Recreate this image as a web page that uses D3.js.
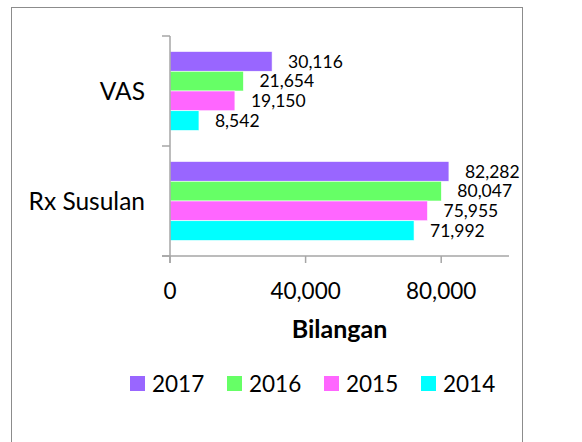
<!DOCTYPE html>
<html>
<head>
<meta charset="utf-8">
<script src="https://d3js.org/d3.v7.min.js"></script>
<style>
  body { margin: 0; background: #fff; }
  text { font-family: Lato, "Open Sans", sans-serif; fill: #000; }
</style>
</head>
<body>
<div id="chart1"></div>
<script>
var categories = ["VAS", "Rx Susulan"];
var years = ["2017", "2016", "2015", "2014"];
var values = {
  "2017": [30116, 82282],
  "2016": [21654, 80047],
  "2015": [19150, 75955],
  "2014": [8542, 71992]
};
var colors = ["#9966ff", "#66ff66", "#ff66ff", "#00ffff"];
var xTicks = [0, 40000, 80000];

var width = 582, height = 442;

var svg = d3.select("#chart1").append("svg")
  .attr("width", width)
  .attr("height", height);

// outer frame (bottom edge runs off the picture)
svg.append("rect")
  .attr("x", 11.5)
  .attr("y", 7.5)
  .attr("width", 511)
  .attr("height", 460)
  .attr("fill", "none")
  .attr("stroke", "#8c8c8c")
  .attr("stroke-width", 1);

var x = d3.scaleLinear()
  .domain([0, 100000])
  .range([170, 509]);

var y = d3.scaleBand()
  .domain(categories)
  .range([36, 256]);

var ySub = d3.scaleBand()
  .domain(years)
  .range([0, y.bandwidth()])
  .paddingInner(0)
  .paddingOuter(0.785);

var fmt = d3.format(",");

var group = svg.selectAll(".cat")
  .data(categories)
  .enter().append("g")
  .attr("class", "cat")
  .attr("transform", function(d) { return "translate(0," + y(d) + ")"; });

group.selectAll("rect")
  .data(function(d, i) { return years.map(function(yr, j) { return {year: yr, value: values[yr][i], color: colors[j]}; }); })
  .enter().append("rect")
  .attr("x", x(0))
  .attr("y", function(d) { return ySub(d.year); })
  .attr("width", function(d) { return x(d.value) - x(0); })
  .attr("height", ySub.bandwidth())
  .attr("fill", function(d) { return d.color; })
  .attr("stroke", "#fff")
  .attr("stroke-width", 0.6);

group.selectAll(".val")
  .data(function(d, i) { return years.map(function(yr) { return {year: yr, value: values[yr][i]}; }); })
  .enter().append("text")
  .attr("class", "val")
  .attr("x", function(d) { return x(d.value) + 16; })
  .attr("y", function(d) { return ySub(d.year) + ySub.bandwidth() / 2; })
  .attr("dy", ".36em")
  .style("font-size", "17.5px")
  .text(function(d) { return fmt(d.value); });

// category labels
svg.selectAll(".catlabel")
  .data(categories)
  .enter().append("text")
  .attr("class", "catlabel")
  .attr("x", 145)
  .attr("y", function(d) { return y(d) + y.bandwidth() / 2; })
  .attr("dy", ".36em")
  .attr("text-anchor", "end")
  .style("font-size", "24.5px")
  .text(function(d) { return d; });

// axes
var axisColor = "#a6a6a6";
svg.append("line")
  .attr("x1", x(0)).attr("x2", x(0))
  .attr("y1", 36).attr("y2", 263)
  .attr("stroke", axisColor).attr("stroke-width", 1.5);

svg.append("line")
  .attr("x1", 162).attr("x2", x(100000))
  .attr("y1", 256).attr("y2", 256)
  .attr("stroke", axisColor).attr("stroke-width", 1.5);

svg.selectAll(".ytick")
  .data([36, 146, 256])
  .enter().append("line")
  .attr("x1", 162).attr("x2", x(0))
  .attr("y1", function(d) { return d; })
  .attr("y2", function(d) { return d; })
  .attr("stroke", axisColor).attr("stroke-width", 1.5);

svg.selectAll(".xtick")
  .data(xTicks)
  .enter().append("line")
  .attr("x1", function(d) { return x(d); })
  .attr("x2", function(d) { return x(d); })
  .attr("y1", 256).attr("y2", 263)
  .attr("stroke", axisColor).attr("stroke-width", 1.5);

svg.selectAll(".xlabel")
  .data(xTicks)
  .enter().append("text")
  .attr("x", function(d) { return x(d); })
  .attr("y", 299)
  .attr("text-anchor", "middle")
  .style("font-size", "22.5px")
  .text(function(d) { return fmt(d); });

svg.append("text")
  .attr("x", (x(0) + x(100000)) / 2)
  .attr("y", 338)
  .attr("text-anchor", "middle")
  .style("font-size", "25px")
  .style("font-weight", "bold")
  .text("Bilangan");

// legend
var legend = svg.selectAll(".legend")
  .data(years)
  .enter().append("g")
  .attr("class", "legend")
  .attr("transform", function(d, i) { return "translate(" + (130 + i * 97) + ",376)"; });

legend.append("rect")
  .attr("width", 15)
  .attr("height", 15)
  .attr("fill", function(d, i) { return colors[i]; });

legend.append("text")
  .attr("x", 22)
  .attr("y", 7.5)
  .attr("dy", ".36em")
  .style("font-size", "22.5px")
  .text(function(d) { return d; });
</script>
</body>
</html>
